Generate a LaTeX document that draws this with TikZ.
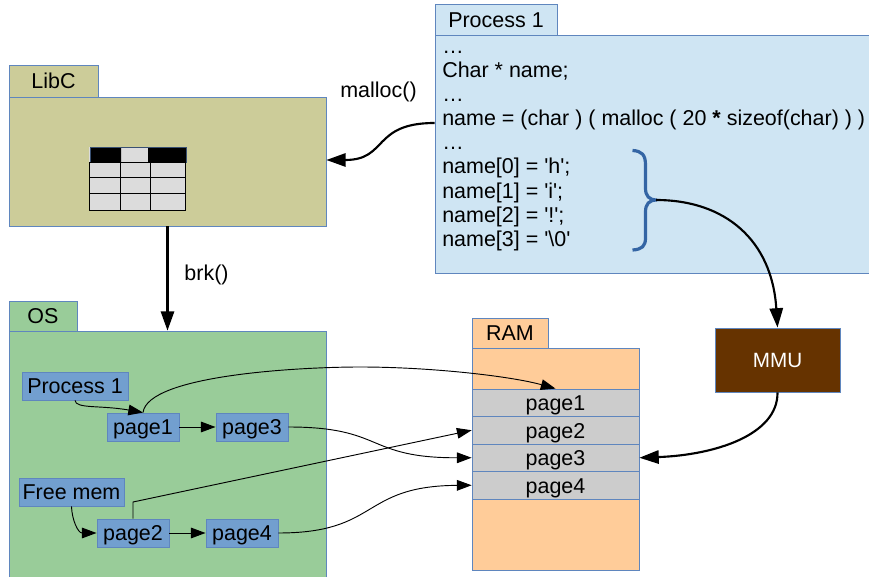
\documentclass[tikz,border=0pt]{standalone}
\usepackage{fontspec}
\setmainfont{Liberation Sans}[Ligatures=TeXOff]
\usetikzlibrary{arrows.meta}
\definecolor{procblue}{HTML}{CFE5F3}
\definecolor{libc}{HTML}{CCCC99}
\definecolor{osgreen}{HTML}{99CC99}
\definecolor{ramorange}{HTML}{FFCC99}
\definecolor{rowgray}{HTML}{CCCCCC}
\definecolor{boxblue}{HTML}{729FCF}
\definecolor{edgeblue}{HTML}{5F86BE}
\definecolor{bracecol}{HTML}{3465A4}
\definecolor{mmubrown}{HTML}{663300}
\definecolor{cellgray}{HTML}{DCDCDC}
\def\u{0.75pt}
\tikzset{
  bodyfont/.style={font=\fontsize{16.1}{16.1}\selectfont},
  vcentre/.style={text height=12pt,text depth=0pt},
  panel/.style={draw=edgeblue,line width=0.6pt,inner sep=0pt,minimum width=#1*\u},
  ht/.style={minimum height=#1*\u},
  tabbox/.style={panel=#1,bodyfont,vcentre},
  pbox/.style={draw=edgeblue,fill=boxblue,line width=0.7pt,inner sep=0pt,minimum width=72*\u,minimum height=28*\u,bodyfont,vcentre},
  rowbox/.style={draw=edgeblue,fill=rowgray,line width=0.6pt,inner sep=0pt,minimum width=167*\u,minimum height=27.5*\u,bodyfont,vcentre},
  lab/.style={inner sep=0pt,anchor=base,bodyfont},
  code/.style={inner sep=0pt,anchor=base west,bodyfont},
  thin arrow/.style={line width=0.7pt,-{Triangle[length=11pt,width=8pt]}},
  thick arrow/.style={line width=1.6pt,-{Triangle[length=14.5pt,width=10pt]}},
}
\begin{document}
\begin{tikzpicture}[x=0.75pt,y=-0.75pt]
\useasboundingbox (0,0) rectangle (869,577);
% Process 1 panel
\node[tabbox=122,ht=31,fill=procblue] (proctab) at (496,19.5) {Process 1};
\node[panel=434,ht=238,fill=procblue] (proc) at (652,154) {};
\node[code] (c1) at (442,53.5) {…};
\node[code] (c2) at (442,77.5) {Char * name;};
\node[code] (c3) at (442,102) {…};
\node[code] (c4) at (442,125.5) {name = (char ) ( malloc ( 20 \textbf{*} sizeof(char) ) )};
\node[code] (c5) at (442,150) {…};
\node[code] (c6) at (442,174) {name[0] = 'h';};
\node[code] (c7) at (442,199) {name[1] = 'i';};
\node[code] (c8) at (442,223) {name[2] = '!';};
\node[code] (c9) at (442,247) {name[3] = '\textbackslash 0'};
% LibC panel
\node[tabbox=89,ht=32,fill=libc] (libctab) at (53.5,81) {LibC};
\node[panel=317,ht=129,fill=libc] (libc) at (167.5,161.5) {};
% table icon
\fill[cellgray] (89,147) rectangle (186,210);
\fill[black] (90,148) rectangle (121,162) (148,148) rectangle (186,162);
\draw[edgeblue!60!black,line width=0.5pt] (90,147.5) rectangle (186,162);
\draw[line width=0.7pt] (89,162) -- (186,162) (89,177) -- (186,177) (89,193.5) -- (186,193.5) (89,210) -- (186,210);
\draw[line width=0.7pt] (89.5,162) -- (89.5,210) (120,162) -- (120,210) (150,162) -- (150,210) (185.5,162) -- (185.5,210);
% OS panel
\node[tabbox=68,ht=30,fill=osgreen] (ostab) at (43,316) {OS};
\node[panel=317,ht=250,fill=osgreen] (os) at (167.5,456) {};
\node[pbox,minimum width=106*\u] (p1) at (75,386) {Process 1};
\node[pbox] (pg1) at (143,427) {page1};
\node[pbox] (pg3) at (252,427) {page3};
\node[pbox,minimum width=105*\u] (fm) at (71.5,492) {Free mem};
\node[pbox] (pg2) at (133,533) {page2};
\node[pbox] (pg4) at (242,533) {page4};
% RAM panel
\node[tabbox=76,ht=30,fill=ramorange] (ramtab) at (510,333) {RAM};
\node[panel=167,ht=222,fill=ramorange] (ram) at (555.5,459) {};
\node[rowbox] (r1) at (555.5,402.75) {page1};
\node[rowbox] (r2) at (555.5,430.25) {page2};
\node[rowbox] (r3) at (555.5,457.75) {page3};
\node[rowbox] (r4) at (555.5,485.25) {page4};
% MMU
\node[draw=edgeblue,fill=mmubrown,text=white,line width=0.7pt,inner sep=0pt,minimum width=125*\u,minimum height=64*\u,font=\fontsize{15.5}{15.5}\selectfont,vcentre] (mmu) at (777.5,360) {MMU};
% labels
\node[lab] (lmalloc) at (378.5,97.5) {malloc()};
\node[lab] (lbrk) at (206.5,280.5) {brk()};
% brace
\draw[bracecol,line width=2.4pt] (632.5,150.5) .. controls (642,151) and (645.5,155) .. (645.5,165) -- (645.5,188) .. controls (645.5,196) and (649,200) .. (657,200) .. controls (649,200) and (645.5,204) .. (645.5,212) -- (645.5,238) .. controls (645.5,246) and (642,249.5) .. (632.5,250);
\coordinate (bracetip) at (656,200);
\coordinate (mallocstart) at (proc.west |- 0,123);
\coordinate (libcin) at (libc.east |- 0,160);
% connectors
\draw[thick arrow] (mallocstart) .. controls (372,123) and (388,160) .. (libcin);
\draw[thick arrow] (libc.south) -- (os.north);
\draw[thick arrow] (bracetip) .. controls (725,200) and (772,240) .. (mmu.north);
\draw[thick arrow] (mmu.south) .. controls (778,435) and (715,455) .. (r3.east);
\draw[thin arrow] (p1.south) .. controls (76,409) and (100,405) .. (pg1.north);
\draw[thin arrow] (pg1.north) .. controls (148,375) and (300,367) .. (360,367) .. controls (430,367) and (510,376) .. (r1.north);
\draw[thin arrow] (pg1.east) -- (pg3.west);
\draw[thin arrow] (pg3.east) .. controls (385,427) and (365,458) .. (r3.west);
\draw[thin arrow] (fm.south) .. controls (72,520) and (78,533) .. (pg2.west);
\draw[thin arrow] (pg2.north) -- (133,502) -- (r2.west);
\draw[thin arrow] (pg2.east) -- (pg4.west);
\draw[thin arrow] (pg4.east) .. controls (380,533) and (360,486) .. (r4.west);
\end{tikzpicture}
\end{document}
